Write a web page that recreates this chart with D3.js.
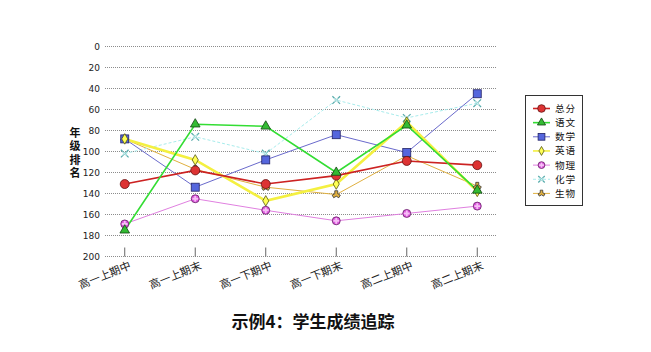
<!DOCTYPE html>
<html>
<head>
<meta charset="utf-8">
<script src="https://cdn.jsdelivr.net/npm/d3@7"></script>
<style>
body { margin: 0; background: #fff; }
text { font-family: "Noto Sans CJK SC", "DejaVu Sans", sans-serif; }
</style>
</head>
<body>
<script>
// exam periods along the x axis
var terms = ["高一上期中", "高一上期末", "高一下期中", "高一下期末", "高二上期中", "高二上期末"];
var yTicks = [0, 20, 40, 60, 80, 100, 120, 140, 160, 180, 200];

// grade ranking of each subject
var zongfen = [131, 118, 131, 123, 109, 113];
var yuwen   = [175, 74, 76, 120, 75, 137];
var shuxue  = [88, 134, 108, 84, 101, 45];
var yingyu  = [88, 108, 147, 131, 72, 138];
var wuli    = [169, 145, 156, 166, 159, 152];
var huaxue  = [102, 86, 102, 51, 68, 54];
var shengwu = [88, 117, 134, 141, 104, 133];

var series = [
    { name: "总分", values: zongfen, color: "#cc2222", fill: "#dd3333", width: 1.6, marker: "circle" },
    { name: "语文", values: yuwen, color: "#33dd33", fill: "#33bb33", width: 1.6, marker: "triangle" },
    { name: "数学", values: shuxue, color: "#6a6acc", fill: "#5566dd", width: 1, marker: "square" },
    { name: "英语", values: yingyu, color: "#f4f040", fill: "#ffff55", width: 2.6, marker: "diamond" },
    { name: "物理", values: wuli, color: "#e080e0", fill: "#dd55dd", width: 1, marker: "pcircle" },
    { name: "化学", values: huaxue, color: "#a8ecec", fill: "#99dddd", width: 1, marker: "cross", dash: "3,2" },
    { name: "生物", values: shengwu, color: "#e0b040", fill: "#e0b040", width: 1, marker: "star" }
];

var svg = d3.select("body").append("svg")
    .attr("width", 651)
    .attr("height", 352);

var x = d3.scalePoint().domain(terms).range([105, 497]).padding(0.28);
var y = d3.scaleLinear().domain([0, 200]).range([46.5, 256.5]);

// grid lines
svg.append("g").selectAll("line")
    .data(yTicks)
    .enter().append("line")
    .attr("x1", 105).attr("x2", 497)
    .attr("y1", function (d) { return y(d); })
    .attr("y2", function (d) { return y(d); })
    .attr("stroke", "#8c8c8c")
    .attr("stroke-width", 1)
    .attr("stroke-dasharray", "1,1");

// y tick labels
svg.append("g").selectAll("text")
    .data(yTicks)
    .enter().append("text")
    .attr("x", 100)
    .attr("y", function (d) { return y(d); })
    .attr("dy", "0.35em")
    .attr("text-anchor", "end")
    .style("font-size", "9px")
    .style("font-family", "'DejaVu Sans', sans-serif")
    .attr("fill", "#222")
    .text(function (d) { return d; });

// x ticks
svg.append("g").selectAll("line")
    .data(terms)
    .enter().append("line")
    .attr("x1", function (d) { return x(d); })
    .attr("x2", function (d) { return x(d); })
    .attr("y1", y(200) - 9).attr("y2", y(200))
    .attr("stroke", "#666");

// x labels, rotated
svg.append("g").selectAll("text")
    .data(terms)
    .enter().append("text")
    .attr("transform", function (d) { return "translate(" + (x(d) + 7) + "," + (y(200) + 12) + ") rotate(-22)"; })
    .attr("text-anchor", "end")
    .style("font-size", "11px")
    .attr("fill", "#222")
    .text(function (d) { return d; });

// y axis title, written vertically
svg.append("text")
    .attr("x", 75)
    .attr("y", 154)
    .attr("text-anchor", "middle")
    .style("writing-mode", "vertical-rl")
    .style("letter-spacing", "2.5px")
    .style("font-size", "11px")
    .style("font-weight", "bold")
    .attr("fill", "#111")
    .text("年级排名");

var line = d3.line()
    .x(function (d, i) { return x(terms[i]); })
    .y(function (d) { return y(d); });

function drawMarker(g, s, size) {
    var k = size || 1;
    if (s.marker === "circle") {
        g.append("circle").attr("r", 4.5 * k).attr("fill", s.fill).attr("stroke", "#661111").attr("stroke-width", 0.8);
    } else if (s.marker === "triangle") {
        g.append("path").attr("d", d3.symbol(d3.symbolTriangle, 40 * k * k)())
            .attr("fill", s.fill).attr("stroke", "#114411").attr("stroke-width", 0.8);
    } else if (s.marker === "square") {
        g.append("rect").attr("x", -4 * k).attr("y", -4 * k).attr("width", 8 * k).attr("height", 8 * k)
            .attr("fill", s.fill).attr("stroke", "#222266").attr("stroke-width", 0.8);
    } else if (s.marker === "diamond") {
        g.append("path").attr("d", d3.symbol(d3.symbolDiamond, 32 * k * k)())
            .attr("fill", s.fill).attr("stroke", "#555511").attr("stroke-width", 0.8);
    } else if (s.marker === "pcircle") {
        g.append("circle").attr("r", 4 * k).attr("fill", s.fill).attr("stroke", "#662266").attr("stroke-width", 0.8);
        g.append("path").attr("d", d3.symbol(d3.symbolCross, 18 * k * k)()).attr("fill", "#f7c0f7");
    } else if (s.marker === "cross") {
        g.append("path").attr("d", d3.symbol(d3.symbolX, 40 * k * k)())
            .attr("fill", "none").attr("stroke", "#55aaaa").attr("stroke-width", 1.2);
        g.append("path").attr("d", d3.symbol(d3.symbolX, 12 * k * k)())
            .attr("fill", "none").attr("stroke", "#ddffff").attr("stroke-width", 0.8);
    } else if (s.marker === "star") {
        g.append("path").attr("d", d3.symbol(d3.symbolWye, 30 * k * k)())
            .attr("transform", "rotate(180)")
            .attr("fill", s.fill).attr("stroke", "#333").attr("stroke-width", 0.8);
    }
}

// lines first, then markers on top
var drawOrder = [6, 5, 4, 2, 3, 0, 1];
drawOrder.forEach(function (idx) {
    var s = series[idx];
    svg.append("path")
        .datum(s.values)
        .attr("d", line)
        .attr("fill", "none")
        .attr("stroke", s.color)
        .attr("stroke-width", s.width)
        .attr("stroke-dasharray", s.dash || null);
});
drawOrder.forEach(function (idx) {
    var s = series[idx];
    s.values.forEach(function (v, i) {
        var g = svg.append("g").attr("transform", "translate(" + x(terms[i]) + "," + y(v) + ")");
        drawMarker(g, s, 1);
    });
});

// legend
var legend = svg.append("g");
legend.append("rect")
    .attr("x", 525.5).attr("y", 95.5)
    .attr("width", 57).attr("height", 110)
    .attr("fill", "#fff")
    .attr("stroke", "#333");

series.forEach(function (s, i) {
    var ly = 108.5 + i * 14.15;
    legend.append("line")
        .attr("x1", 533).attr("x2", 550)
        .attr("y1", ly).attr("y2", ly)
        .attr("stroke", s.color)
        .attr("stroke-width", Math.min(s.width, 1.6))
        .attr("stroke-dasharray", s.dash || null);
    var g = legend.append("g").attr("transform", "translate(541.5," + ly + ")");
    drawMarker(g, s, 0.85);
    legend.append("text")
        .attr("x", 555).attr("y", ly)
        .attr("dy", "0.36em")
        .style("font-size", "9.6px")
        .style("letter-spacing", "0.8px")
        .attr("fill", "#111")
        .text(s.name);
});

// title
svg.append("text")
    .attr("x", 313).attr("y", 322)
    .attr("dy", "0.35em")
    .attr("text-anchor", "middle")
    .style("font-size", "17px")
    .style("font-weight", "bold")
    .attr("fill", "#111")
    .text("示例4：学生成绩追踪");
</script>
</body>
</html>
